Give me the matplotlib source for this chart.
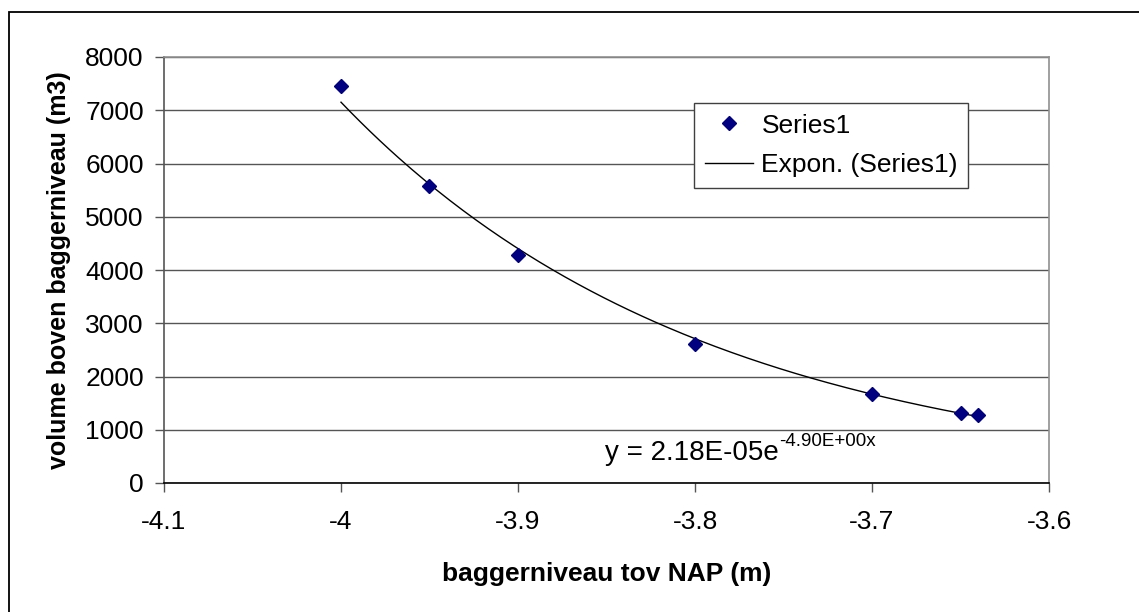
import numpy as np
import matplotlib.pyplot as plt
from matplotlib.patches import Rectangle

plt.rcParams['font.family'] = ['Liberation Sans', 'DejaVu Sans']

# data
niveau = [-4.0, -3.95, -3.9, -3.8, -3.7, -3.65, -3.64]
volume = [7455, 5577, 4282, 2610, 1671, 1315, 1277]

xticks = [-4.1, -4.0, -3.9, -3.8, -3.7, -3.6]
xtick_labels = ['-4.1', '-4', '-3.9', '-3.8', '-3.7', '-3.6']
yticks = [0, 1000, 2000, 3000, 4000, 5000, 6000, 7000, 8000]

# exponential trendline, fitted like Excel does (linear fit on ln y)
b, ln_a = np.polyfit(niveau, np.log(volume), 1)
x_fit = np.linspace(min(niveau), max(niveau), 200)
y_fit = np.exp(ln_a) * np.exp(b * x_fit)

fig = plt.figure(figsize=(11.39, 6.12), dpi=100)
ax = fig.add_axes([164 / 1139, 1 - 483 / 612, 885 / 1139, 426 / 612])

# outer chart border
fig.patches.append(Rectangle((9 / 1139, -0.1), 1.2, 1.1 - 12 / 612,
                             transform=fig.transFigure, fill=False,
                             edgecolor='black', linewidth=1.3))

ax.plot(niveau, volume, linestyle='none', marker='D', markersize=7.5,
        color='#000080', label='Series1', zorder=3)
ax.plot(x_fit, y_fit, color='black', linewidth=1, label='Expon. (Series1)', zorder=2)

ax.set_xlim(-4.1, -3.6)
ax.set_ylim(0, 8000)
ax.set_xticks(xticks)
ax.set_xticklabels(xtick_labels)
ax.set_yticks(yticks)
ax.yaxis.grid(True, color='#555555', linewidth=1)
ax.set_axisbelow(True)

ax.spines['left'].set_color('#555555')
ax.spines['bottom'].set_color('black')
ax.spines['top'].set_color('#909090')
ax.spines['right'].set_color('#909090')
for s in ax.spines.values():
    s.set_linewidth(1.2)

ax.tick_params(axis='both', direction='out', length=6.5, width=1,
               colors='#555555', labelcolor='black', labelsize=19)
ax.tick_params(axis='y', pad=8)
ax.tick_params(axis='x', pad=13)

ax.set_xlabel('baggerniveau tov NAP (m)', fontsize=19, fontweight='bold', labelpad=20)
ax.set_ylabel('volume boven baggerniveau (m3)', fontsize=18, fontweight='bold', labelpad=10)

leg = ax.legend(loc='upper left', bbox_to_anchor=(0.599, 0.892), fontsize=19,
                fancybox=False, framealpha=1, edgecolor='#404040',
                handlelength=1.85, handletextpad=0.3, borderpad=0.4,
                labelspacing=0.6, borderaxespad=0)
leg.get_frame().set_linewidth(1)

eq = ax.text(-3.8508, 432, 'y = 2.18E-05e', fontsize=20, ha='left', va='baseline')
ax.annotate('-4.90E+00x', xy=(1, 0.62), xycoords=eq, fontsize=13.5,
            ha='left', va='bottom')

fig.savefig('out.png', dpi=100)
